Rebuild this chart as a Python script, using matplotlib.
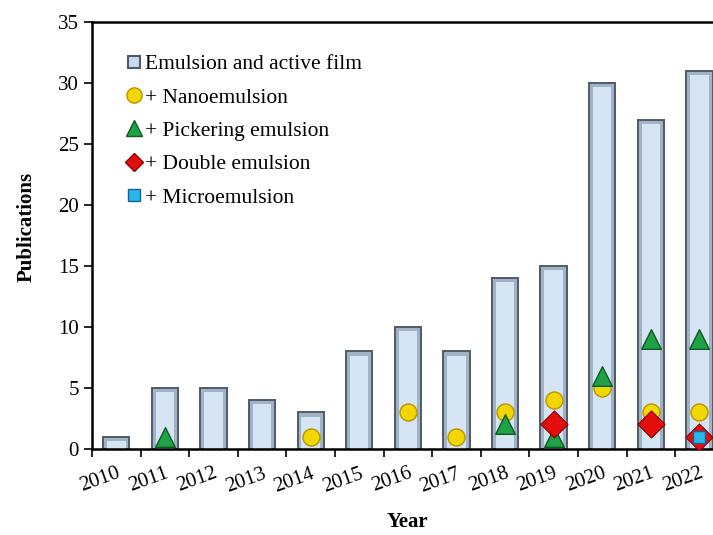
import numpy as np
import matplotlib
matplotlib.use("Agg")
import matplotlib.pyplot as plt
from matplotlib.lines import Line2D

years = ["2010", "2011", "2012", "2013", "2014", "2015", "2016",
         "2017", "2018", "2019", "2020", "2021", "2022"]
total = [1, 5, 5, 4, 3, 8, 10, 8, 14, 15, 30, 27, 31]

# marker series: (year, value)
nano_years = ["2014", "2016", "2017", "2018", "2019", "2020", "2021", "2022"]
nano_vals = [1, 3, 1, 3, 4, 5, 3, 3]
pick_years = ["2011", "2018", "2019", "2020", "2021", "2022"]
pick_vals = [1, 2, 1, 6, 9, 9]
double_years = ["2019", "2021", "2022"]
double_vals = [2, 2, 1]
micro_years = ["2022"]
micro_vals = [1]

plt.rcParams['font.family'] = ['Liberation Serif', 'DejaVu Serif']

fig = plt.figure(figsize=(7.13, 5.35), dpi=100)
ax = fig.add_axes([0.129, 0.161, 0.886, 0.798])

x = np.arange(len(years))
pos = {y: i for i, y in enumerate(years)}

# bars with a simple bevel look
ax.bar(x, total, width=0.54, color='#9fb2c6', edgecolor='#4f5b68',
       linewidth=1.4, zorder=2)
ax.bar(x, np.array(total) - 0.35, width=0.38, color='#d6e5f3',
       edgecolor='none', zorder=2.5)

ax.scatter([pos[y] for y in nano_years], nano_vals, s=150, marker='o',
           color='#f2d600', edgecolors='#b89400', linewidths=1.0, zorder=4)
ax.scatter([pos[y] for y in pick_years], pick_vals, s=200, marker='^',
           color='#1ea245', edgecolors='#0b5a22', linewidths=1.0, zorder=5)
ax.scatter([pos[y] for y in double_years], double_vals, s=190, marker='D',
           color='#e30d0d', edgecolors='#8a0000', linewidths=0.8, zorder=6)
ax.scatter([pos[y] for y in micro_years], micro_vals, s=70, marker='s',
           color='#29b6e8', edgecolors='#1a5f9e', linewidths=1.0, zorder=7)

ax.set_xlim(-0.5, len(years) - 0.5)
ax.set_ylim(0, 35)
ax.set_yticks(range(0, 36, 5))
ax.set_xticks(np.arange(-0.5, len(years), 1.0), minor=False)
ax.set_xticklabels([])
ax.set_xticks(x, minor=True)
ax.set_xticklabels(years, minor=True, rotation=20, fontsize=15,
                   ha='right', va='top', rotation_mode='anchor')
ax.tick_params(axis='x', which='minor', length=0, pad=11)
ax.tick_params(axis='x', which='major', direction='out', length=6, width=1.2)
ax.tick_params(axis='y', direction='out', length=6, width=1.2, labelsize=15)

for s in ax.spines.values():
    s.set_linewidth(1.8)

ax.set_ylabel("Publications", fontsize=15, fontweight='bold')
ax.yaxis.set_label_coords(-0.088, 0.52)
ax.set_xlabel("Year", fontsize=15, fontweight='bold')
ax.xaxis.set_label_coords(0.5, -0.148)

handles = [
    Line2D([], [], marker='s', linestyle='none', markersize=9,
           markerfacecolor='#c9dcee', markeredgecolor='#4f5b68', markeredgewidth=1.5),
    Line2D([], [], marker='o', linestyle='none', markersize=11,
           markerfacecolor='#f2d600', markeredgecolor='#b89400'),
    Line2D([], [], marker='^', linestyle='none', markersize=12,
           markerfacecolor='#1ea245', markeredgecolor='#0b5a22'),
    Line2D([], [], marker='D', linestyle='none', markersize=9,
           markerfacecolor='#e30d0d', markeredgecolor='#8a0000'),
    Line2D([], [], marker='s', linestyle='none', markersize=8,
           markerfacecolor='#29b6e8', markeredgecolor='#1a5f9e'),
]
labels = ["Emulsion and active film", "+ Nanoemulsion", "+ Pickering emulsion",
          "+ Double emulsion", "+ Microemulsion"]
ax.legend(handles, labels, loc='upper left', bbox_to_anchor=(0.03, 0.945),
          frameon=False, fontsize=15.5, handletextpad=-0.1, handlelength=1.3,
          labelspacing=0.62, borderaxespad=0.0)

fig.savefig("out.png", dpi=100)
